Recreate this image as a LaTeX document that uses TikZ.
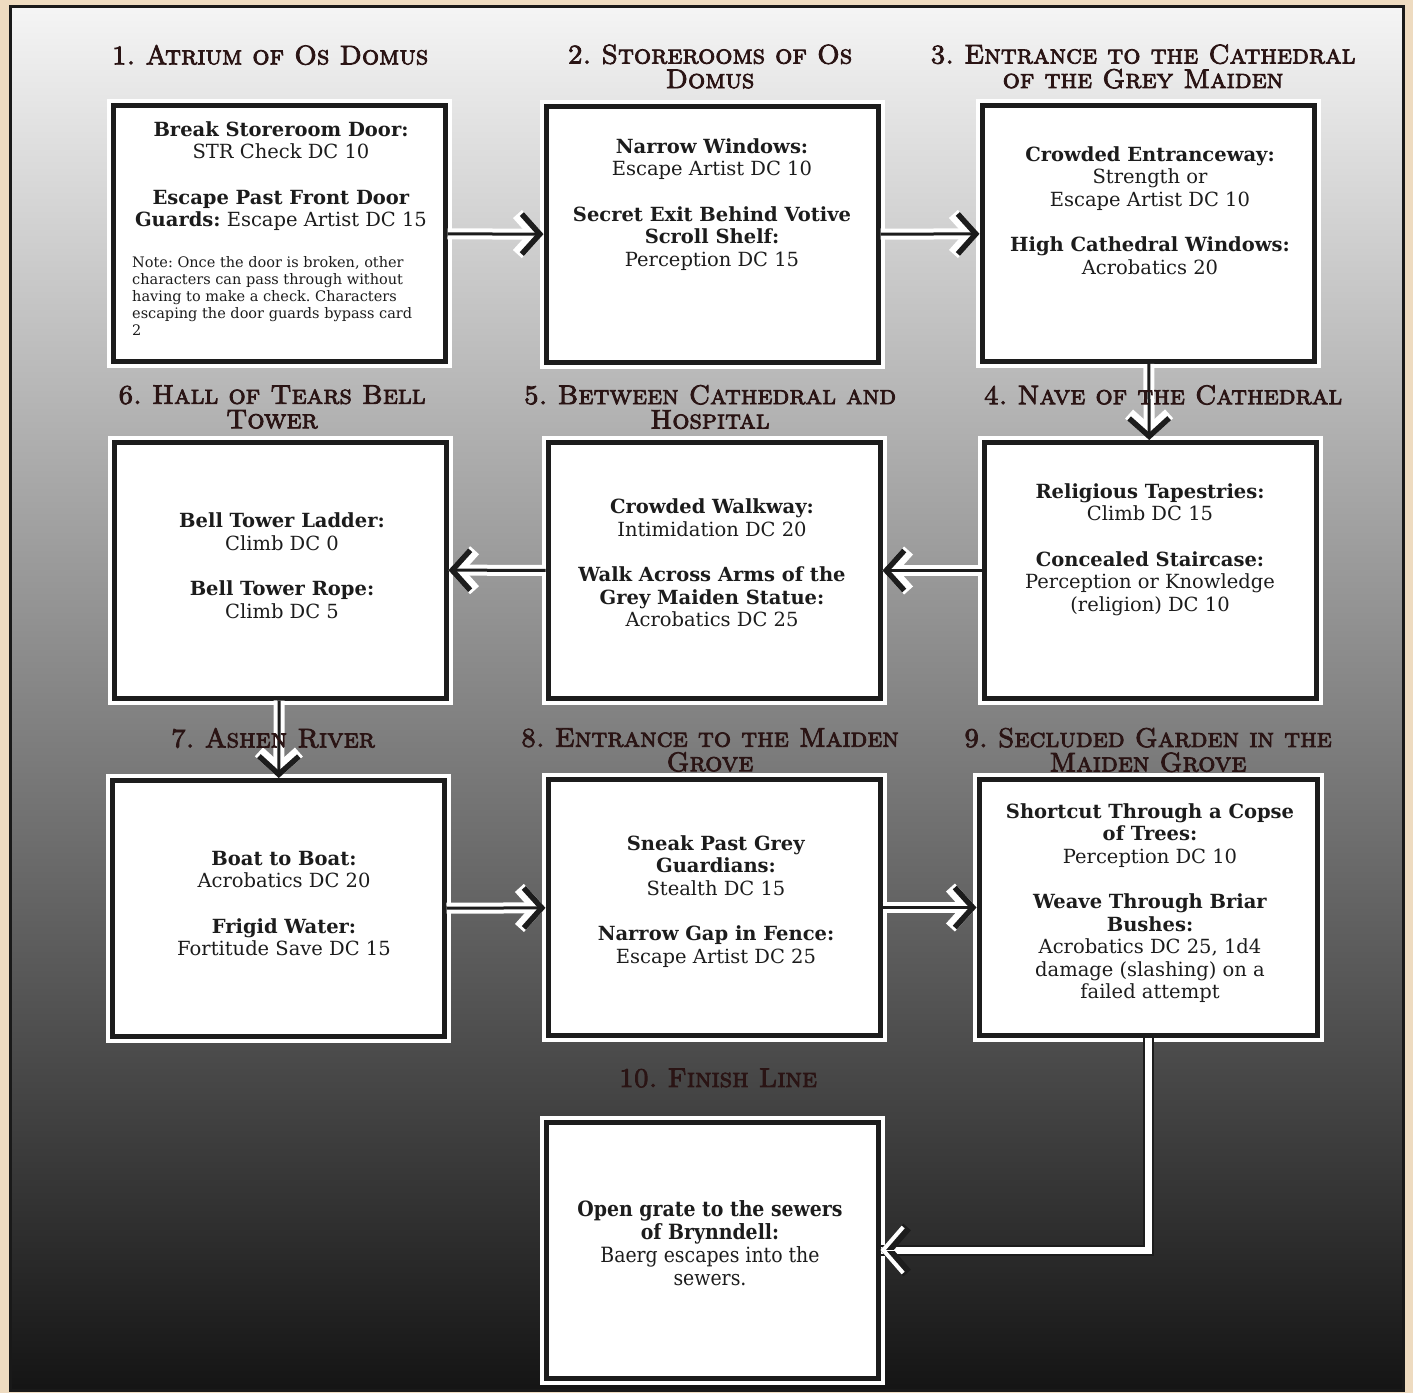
\documentclass[tikz,border=0pt]{standalone}
\usepackage{fontspec}
\setmainfont{DejaVu Serif}
\newfontfamily\condfont{DejaVu Serif Condensed}
\newfontfamily\ttlfont[Extension=.otf,FakeBold=3]{lmromancaps10-regular}
\usetikzlibrary{arrows.meta}
\definecolor{tan}{HTML}{EEDBC0}
\definecolor{ink}{HTML}{1C1C1C}
\definecolor{ttlink}{HTML}{2A1414}
\begin{document}
\frenchspacing
\begin{tikzpicture}[x=1pt,y=-1pt,
  card/.style={rectangle, fill=white, draw=ink, line width=5pt,
    minimum width=332pt, minimum height=256pt, inner sep=0pt,
    preaction={draw=white, line width=13pt}},
  body/.style={align=center, font=\fontsize{19.5}{22.5}\selectfont, text=ink, inner sep=0pt},
  note/.style={align=left, font=\fontsize{14.5}{17}\selectfont, text=ink, inner sep=0pt},
  ttl/.style={align=center, font=\ttlfont\fontsize{27}{24.5}\selectfont, text=ttlink, inner sep=0pt},
  conn/.style={draw=ink, line width=3pt,
    -{Straight Barb[length=18pt,width=40pt,line width=5.5pt]},
    preaction={draw=white, line width=11pt,
      -{Straight Barb[length=18pt,width=40pt,line width=12pt]}}},
  connhollow/.style={draw=ink, line width=2pt, double=white, double distance=7pt},
  tipout/.style={white, line width=0.1pt, -{Straight Barb[length=20pt,width=46pt,line width=10pt,color=ink]}},
  tipin/.style={white, line width=0.1pt, -{Straight Barb[length=20pt,width=46pt,line width=4pt]}}
]
\useasboundingbox (0,0) rectangle (1413,1393);
% background
\fill[tan] (0,0) rectangle (1413,1393);
\shade[top color=white!96!black, bottom color=black!92] (10,6) rectangle (1403,1390);
\draw[line width=3pt, black!90] (10,6) rectangle (1403,1390);

% boxes
\node[card] (b1) at (279,233.5) {};
\node[card] (b2) at (712,234.5) {};
\node[card] (b3) at (1148,233.5) {};
\node[card] (b4) at (1150,570.5) {};
\node[card] (b5) at (714,570.5) {};
\node[card] (b6) at (280,570) {};
\node[card] (b7) at (278,908.5) {};
\node[card] (b8) at (714,907.5) {};
\node[card, minimum width=338pt] (b9) at (1148,907.5) {};
\node[card] (b10) at (712,1250) {};
\coordinate (k10) at ([xshift=30pt]b10.east);

% connectors
\draw[conn] (b1) -- (b2);
\draw[conn] (b2) -- (b3);
\draw[conn] (b3) -- (b4);
\draw[conn] (b4) -- (b5);
\draw[conn] (b5) -- (b6);
\draw[conn] (b6) -- (b7);
\draw[conn] (b7) -- (b8);
\draw[conn] (b8) -- (b9);
\draw[connhollow] (b9.south) |- (b10.east);
\draw[tipout] (k10) -- (b10.east);
\draw[tipin] (k10) -- (b10.east);

% box texts
\node[body] (x1) at (281,176) {\textbf{Break Storeroom Door:}\\STR Check DC 10\\[23pt]\textbf{Escape Past Front Door}\\\textbf{Guards:} Escape Artist DC 15};
\node[note, anchor=west] (n1) at (132,296) {Note: Once the door is broken, other\\characters can pass through without\\having to make a check. Characters\\escaping the door guards bypass card\\2};
\node[body] (x2) at (712,204.5) {\textbf{Narrow Windows:}\\Escape Artist DC 10\\[23pt]\textbf{Secret Exit Behind Votive}\\\textbf{Scroll Shelf:}\\Perception DC 15};
\node[body] (x3) at (1150,210.5) {\textbf{Crowded Entranceway:}\\Strength or\\Escape Artist DC 10\\[23pt]\textbf{High Cathedral Windows:}\\Acrobatics 20};
\node[body] (x4) at (1150,549.5) {\textbf{Religious Tapestries:}\\Climb DC 15\\[23pt]\textbf{Concealed Staircase:}\\Perception or Knowledge\\(religion) DC 10};
\node[body] (x5) at (712,563) {\textbf{Crowded Walkway:}\\Intimidation DC 20\\[23pt]\textbf{Walk Across Arms of the}\\\textbf{Grey Maiden Statue:}\\Acrobatics DC 25};
\node[body] (x6) at (282,565.5) {\textbf{Bell Tower Ladder:}\\Climb DC 0\\[23pt]\textbf{Bell Tower Rope:}\\Climb DC 5};
\node[body] (x7) at (284,903.5) {\textbf{Boat to Boat:}\\Acrobatics DC 20\\[23pt]\textbf{Frigid Water:}\\Fortitude Save DC 15};
\node[body] (x8) at (716,901.5) {\textbf{Sneak Past Grey}\\\textbf{Guardians:}\\Stealth DC 15\\[23pt]\textbf{Narrow Gap in Fence:}\\Escape Artist DC 25};
\node[body] (x9) at (1150,903) {\textbf{Shortcut Through a Copse}\\\textbf{of Trees:}\\Perception DC 10\\[23pt]\textbf{Weave Through Briar}\\\textbf{Bushes:}\\Acrobatics DC 25, 1d4\\damage (slashing) on a\\failed attempt};
\node[body, font=\condfont\fontsize{21}{23}\selectfont] (x10) at (710,1243) {\textbf{Open grate to the sewers}\\\textbf{of Brynndell:}\\Baerg escapes into the\\sewers.};

% titles
\node[ttl] (t1) at (270,55) {1. Atrium of Os Domus};
\node[ttl] (t2) at (710,66.5) {2. Storerooms of Os\\Domus};
\node[ttl] (t3) at (1143,66.5) {3. Entrance to the Cathedral\\of the Grey Maiden};
\node[ttl] (t6) at (272,407) {6. Hall of Tears Bell\\Tower};
\node[ttl] (t5) at (710,407) {5. Between Cathedral and\\Hospital};
\node[ttl] (t4) at (1163,395) {4. Nave of the Cathedral};
\node[ttl] (t7) at (273,738) {7. Ashen River};
\node[ttl] (t8) at (710,750) {8. Entrance to the Maiden\\Grove};
\node[ttl] (t9) at (1148,750) {9. Secluded Garden in the\\Maiden Grove};
\node[ttl] (t10) at (718,1078) {10. Finish Line};
\end{tikzpicture}
\end{document}
